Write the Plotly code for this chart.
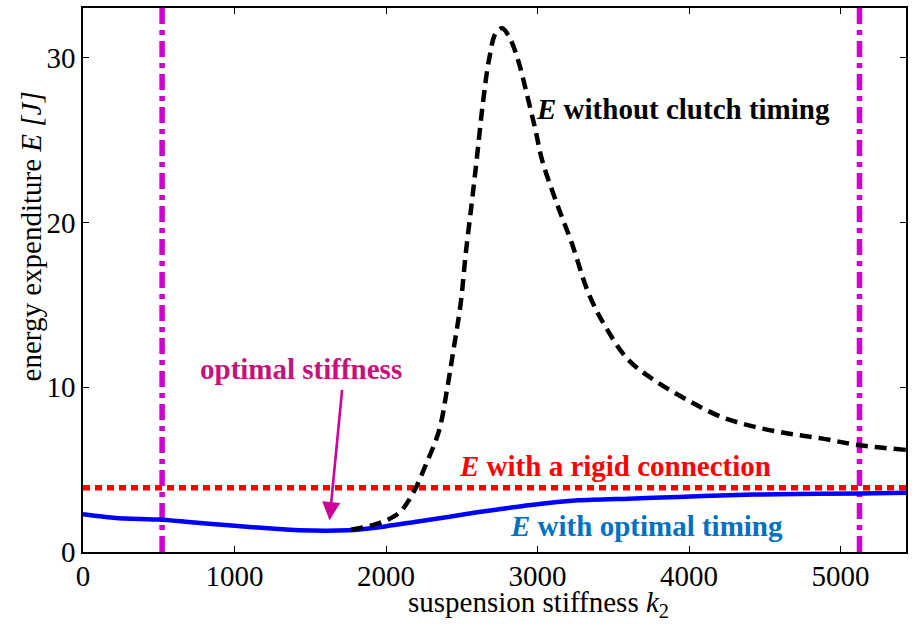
import plotly.graph_objects as go

# ---- data ----
k_opt = [0, 215, 500, 697, 960, 1245, 1421, 1750, 1969, 2188, 2408, 2614, 2737,
         2943, 3272, 3601, 3930, 4259, 4588, 5135, 5432]
E_opt = [2.3, 2.07, 1.97, 1.82, 1.62, 1.42, 1.32, 1.32, 1.52, 1.82, 2.13, 2.43, 2.58,
         2.84, 3.14, 3.24, 3.34, 3.45, 3.51, 3.55, 3.6]

k_noclutch = [1770, 1900, 1970, 2050, 2100, 2180, 2263, 2351, 2405, 2449, 2493, 2526,
              2566, 2603, 2640, 2680, 2724, 2767, 2822, 2877, 2932, 2987, 3030, 3118,
              3228, 3337, 3447, 3601, 3776, 3995, 4214, 4434, 4653, 4872, 5114, 5432]
E_noclutch = [1.35, 1.6, 1.8, 2.15, 2.5, 3.6, 5.3, 7.4, 10.0, 12.5, 15.1, 18.1,
              21.2, 24.2, 27.3, 29.9, 31.5, 31.8, 31.1, 29.7, 27.7, 25.6, 23.8, 21.4,
              18.7, 15.7, 13.7, 11.65, 10.4, 9.2, 8.2, 7.6, 7.2, 6.9, 6.5, 6.2]

E_rigid = 3.9
k_bounds = [522, 5125]
x_range = [0, 5432]
y_range = [0, 33.03]
x_ticks = [0, 1000, 2000, 3000, 4000, 5000]
y_ticks = [0, 10, 20, 30]
k_arrow_tip, E_arrow_tip = 1627, 1.93
k_arrow_tail, E_arrow_tail = 1711, 9.93

FONT = "Liberation Serif"
MAGENTA = "#CC00CC"

fig = go.Figure()

for kb in k_bounds:
    fig.add_trace(go.Scatter(x=[kb, kb], y=y_range, mode="lines",
                             line=dict(color=MAGENTA, width=5.5, dash="16px,6px,5px,6px"),
                             hoverinfo="skip", showlegend=False))

fig.add_trace(go.Scatter(x=x_range, y=[E_rigid, E_rigid], mode="lines",
                         line=dict(color="#FF0000", width=5.5, dash="7px,5px"),
                         showlegend=False))
fig.add_trace(go.Scatter(x=k_opt, y=E_opt, mode="lines",
                         line=dict(color="#0000FF", width=4.5, shape="spline", smoothing=0.6),
                         showlegend=False))
fig.add_trace(go.Scatter(x=k_noclutch, y=E_noclutch, mode="lines",
                         line=dict(color="#000000", width=4.5, dash="12px,7px",
                                   shape="spline", smoothing=1.0),
                         showlegend=False))

axis_common = dict(showline=True, linecolor="black", linewidth=1.5, mirror="ticks",
                   ticks="inside", ticklen=6, tickwidth=1, tickcolor="black",
                   showgrid=False, zeroline=False,
                   tickfont=dict(family=FONT, size=29, color="black"))

fig.update_xaxes(range=x_range, tickvals=x_ticks, ticktext=[str(v) for v in x_ticks],
                 ticklabelstandoff=-3, **axis_common)
fig.update_yaxes(range=y_range, tickvals=y_ticks, ticktext=[str(v) for v in y_ticks],
                 **axis_common)

ann = []
ann.append(dict(x=2976, y=26.87, xref="x", yref="y", xanchor="left", yanchor="middle",
                text="<b><i>E</i> without clutch timing</b>", showarrow=False,
                font=dict(family=FONT, size=29, color="black")))
ann.append(dict(x=3512, y=5.2, xref="x", yref="y", xanchor="center", yanchor="middle",
                text="<b><i>E</i> with a rigid connection</b>", showarrow=False,
                font=dict(family=FONT, size=29, color="#FF0000")))
ann.append(dict(x=3721, y=1.55, xref="x", yref="y", xanchor="center", yanchor="middle",
                text="<b><i>E</i> with optimal timing</b>", showarrow=False,
                font=dict(family=FONT, size=29, color="#0070C0")))
ann.append(dict(x=1441, y=11.14, xref="x", yref="y", xanchor="center", yanchor="middle",
                text="<b>optimal stiffness</b>", showarrow=False,
                font=dict(family=FONT, size=29, color="#C8107A")))
ann.append(dict(x=k_arrow_tip, y=E_arrow_tip, ax=k_arrow_tail, ay=E_arrow_tail,
                xref="x", yref="y", axref="x", ayref="y", text="",
                showarrow=True, arrowhead=2, arrowsize=1.4, arrowwidth=2.6,
                arrowcolor="#CC0099"))
ann.append(dict(x=0.553, y=-0.096, xref="paper", yref="paper", xanchor="center",
                yanchor="middle", showarrow=False,
                text="suspension stiffness <i>k</i><sub>2</sub>",
                font=dict(family=FONT, size=29, color="black")))
ann.append(dict(x=-0.0638, y=0.581, xref="paper", yref="paper", xanchor="center",
                yanchor="middle", showarrow=False, textangle=-90,
                text="energy expenditure <i>E [J]</i>",
                font=dict(family=FONT, size=29, color="black")))

fig.update_layout(width=913, height=624, margin=dict(l=83, r=5, t=8, b=72),
                  paper_bgcolor="white", plot_bgcolor="white",
                  annotations=ann, showlegend=False)

fig.write_html("out.html")
